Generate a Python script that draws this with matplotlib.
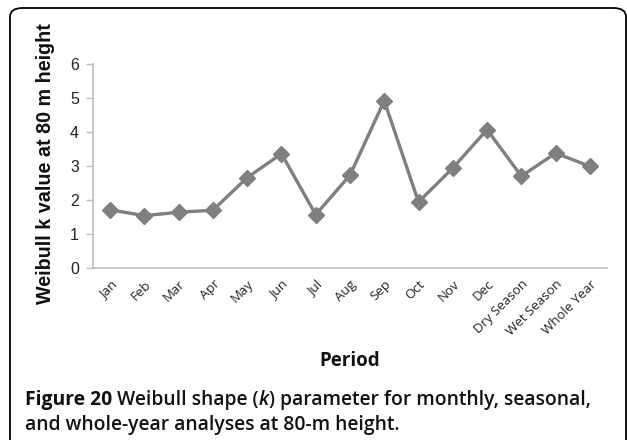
import matplotlib
matplotlib.use("Agg")
import matplotlib.pyplot as plt
from matplotlib.patches import FancyBboxPatch

# ---------------- data ----------------
periods = ["Jan", "Feb", "Mar", "Apr", "May", "Jun", "Jul", "Aug", "Sep", "Oct",
           "Nov", "Dec", "Dry Season", "Wet Season", "Whole Year"]
k_values = [1.71, 1.54, 1.64, 1.70, 2.66, 3.36, 1.57, 2.73, 4.92, 1.94,
            2.94, 4.07, 2.70, 3.38, 2.99]
y_ticks = [0, 1, 2, 3, 4, 5, 6]

LINE_GRAY = "#7f7f7f"
AXIS_GRAY = "#bfbfbf"
W, H = 627, 440

fig = plt.figure(figsize=(W / 100, H / 100), dpi=100)

# rounded frame (runs off the bottom of the picture)
frame = FancyBboxPatch((10 / W, -0.2), 616 / W, (H - 8) / H + 0.2,
                       boxstyle="round,pad=0,rounding_size=0.02",
                       transform=fig.transFigure, facecolor="none",
                       edgecolor="black", linewidth=1.3, zorder=0)
fig.patches.append(frame)

ax = fig.add_axes([93 / W, 172 / H, 514 / W, 204 / H])
ax.patch.set_alpha(0)
x = list(range(len(periods)))
ax.plot(x, k_values, color=LINE_GRAY, linewidth=2.4, marker="D",
        markersize=8, markerfacecolor=LINE_GRAY, markeredgecolor=LINE_GRAY,
        clip_on=False)

ax.set_xlim(-0.5, len(periods) - 0.5)
ax.set_ylim(0, 6)
ax.set_yticks(y_ticks)
ax.set_yticklabels([str(t) for t in y_ticks], fontsize=11.5,
                   family="Liberation Sans", color="#222222")
ax.set_xticks(x)
ax.set_xticklabels(periods, rotation=45, ha="right", rotation_mode="anchor",
                   fontsize=9.5, family="Open Sans", color="#222222")
ax.tick_params(axis="x", length=0, pad=7)
ax.tick_params(axis="y", length=5, width=1, color=AXIS_GRAY, pad=5)

for side in ["top", "right"]:
    ax.spines[side].set_visible(False)
for side in ["left", "bottom"]:
    ax.spines[side].set_color(AXIS_GRAY)
    ax.spines[side].set_linewidth(1.2)

fig.text(46 / W, 1 - 164 / H, "Weibull k value at 80 m height", rotation=90,
         ha="center", va="center", fontsize=14.2, fontweight="bold",
         family="Liberation Sans", color="#111111")
fig.text(350 / W, 1 - 361 / H, "Period", ha="center", va="center",
         fontsize=13.5, fontweight="bold", family="Open Sans", color="#111111")

# ---------------- caption ----------------
cap_size = 13.9
fig.canvas.draw()
renderer = fig.canvas.get_renderer()

def caption_line(parts, x0, y_base):
    xpos = x0
    for txt, weight, style in parts:
        t = fig.text(xpos / W, 1 - y_base / H, txt, ha="left", va="baseline",
                     fontsize=cap_size, fontweight=weight, fontstyle=style,
                     family="Open Sans", color="#111111")
        bb = t.get_window_extent(renderer)
        xpos += bb.width

caption_line([("Figure 20 ", "bold", "normal"),
              ("Weibull shape (", "semibold", "normal"),
              ("k", "semibold", "italic"),
              (") parameter for monthly, seasonal,", "semibold", "normal")],
             25, 405)
caption_line([("and whole-year analyses at 80-m height.", "semibold", "normal")],
             25, 430)

fig.savefig("out.png", dpi=100)
